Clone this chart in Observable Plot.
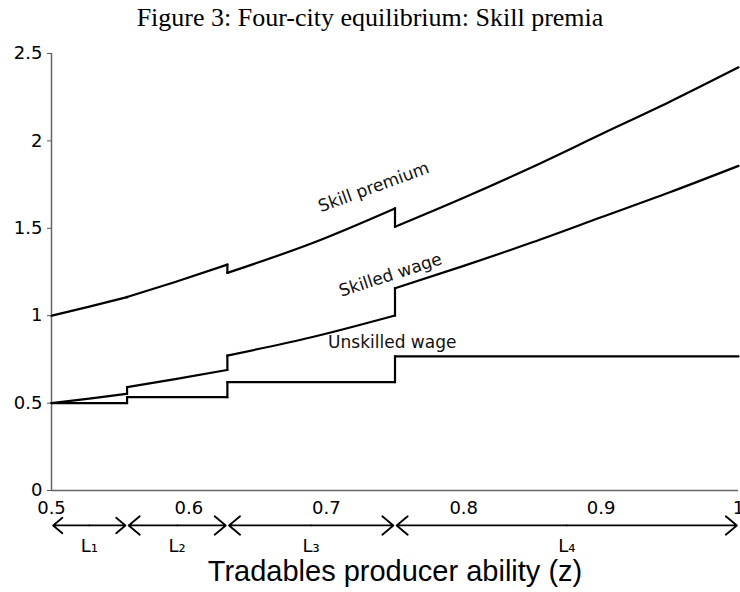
<!DOCTYPE html>
<html>
<head>
<meta charset="utf-8">
<script src="https://cdn.jsdelivr.net/npm/d3@7"></script>
<script src="https://cdn.jsdelivr.net/npm/@observablehq/plot@0.6"></script>
<style>
  html, body { margin: 0; padding: 0; background: #fff; }
  #title { width: 740px; height: 38px; text-align: center; font-family: "Liberation Serif", "DejaVu Serif", serif; font-size: 26px; line-height: 36px; color: #000; }
  #chart svg { display: block; overflow: visible; }
</style>
</head>
<body>
<div id="title">Figure 3: Four-city equilibrium: Skill premia</div>
<div id="chart"></div>
<script>
// Tradables producer ability (z); segment = city in which the producer locates
const zValues   = [0.5, 0.5275, 0.555, 0.555, 0.59, 0.628, 0.628, 0.69, 0.75, 0.75, 0.8, 0.85, 0.9, 0.95, 1.0];
const segment   = [0, 0, 0, 1, 1, 1, 2, 2, 2, 3, 3, 3, 3, 3, 3];
const unskilled = [0.5, 0.5, 0.5, 0.534, 0.534, 0.534, 0.62, 0.62, 0.62, 0.767, 0.767, 0.767, 0.767, 0.767, 0.767];
const skilled   = [0.5, 0.526, 0.553, 0.591, 0.637, 0.69, 0.772, 0.878, 1.001, 1.157, 1.285, 1.42, 1.563, 1.706, 1.857];
const premium   = [1.0, 1.052, 1.106, 1.107, 1.193, 1.292, 1.245, 1.416, 1.614, 1.509, 1.675, 1.851, 2.038, 2.224, 2.421];

// City ranges (L1..L4)
const cityNames  = ["L₁", "L₂", "L₃", "L₄"];
const cityStarts = [0.5, 0.555, 0.628, 0.75];
const cityEnds   = [0.555, 0.628, 0.75, 1.0];

const xTicks = [0.5, 0.6, 0.7, 0.8, 0.9, 1];
const yTicks = [0, 0.5, 1, 1.5, 2, 2.5];

// Curve labels
const labelText = ["Skill premium", "Skilled wage", "Unskilled wage"];
const labelZ    = [0.7345, 0.7467, 0.748];
const labelY    = [1.735, 1.232, 0.847];
const labelRot  = [-20, -18, 0];

const series = [
  {name: "Unskilled wage", values: unskilled},
  {name: "Skilled wage", values: skilled},
  {name: "Skill premium", values: premium}
];
const lineData = series.flatMap(s => zValues.map((z, i) => ({series: s.name, seg: s.name + segment[i], z, v: s.values[i]})));
// vertical jumps between consecutive points sharing the same z (city boundary)
const jumps = series.flatMap(s => zValues.flatMap((z, i) => (i > 0 && zValues[i - 1] === z) ? [{z, v1: s.values[i - 1], v2: s.values[i]}] : []));
const cities = cityNames.map((n, i) => ({name: n, x1: cityStarts[i], x2: cityEnds[i], mid: (cityStarts[i] + cityEnds[i]) / 2}));
const arrowHalves = cities.flatMap(c => [{from: c.mid, to: c.x1 + 0.0012}, {from: c.mid, to: c.x2 - 0.0012}]);
const labels = labelText.map((t, i) => ({t, z: labelZ[i], y: labelY[i], r: labelRot[i]}));

const arrowY = -0.2;
const cityLabelY = -0.318;

const chart = Plot.plot({
  width: 740,
  height: 554,
  marginLeft: 51,
  marginRight: 2,
  marginTop: 15,
  marginBottom: 102,
  x: {domain: [0.5, 1]},
  y: {domain: [0, 2.5]},
  style: {fontFamily: "'DejaVu Sans', sans-serif", fontSize: "18px", color: "#000", background: "#fff"},
  marks: [
    Plot.axisY({ticks: yTicks, tickFormat: d => String(d), tickSize: 4, tickPadding: 5, label: null, stroke: "#555", fill: "#000", fontSize: 18}),
    Plot.axisX({ticks: xTicks, tickFormat: d => String(d), tickSize: 0, tickPadding: 11, label: null, fill: "#000", fontSize: 18}),
    Plot.ruleX([0.5], {y1: 0, y2: 2.5, stroke: "#666", strokeWidth: 1.5}),
    Plot.ruleY([0], {x1: 0.5, x2: 1, stroke: "#666", strokeWidth: 1.5}),
    Plot.line(lineData, {x: "z", y: "v", z: "seg", stroke: "#000", strokeWidth: 2.2, curve: "monotone-x"}),
    Plot.link(jumps, {x1: "z", x2: "z", y1: "v1", y2: "v2", stroke: "#000", strokeWidth: 2.2, strokeLinecap: "square"}),
    Plot.text(labels, {x: "z", y: "y", text: "t", rotate: "r", fontSize: 17, fill: "#111"}),
    Plot.arrow(arrowHalves, {x1: "from", x2: "to", y1: arrowY, y2: arrowY, stroke: "#000", strokeWidth: 1.8, headLength: 12, headAngle: 80, clip: false}),
    Plot.text(cities, {x: "mid", y: cityLabelY, text: "name", fontSize: 18, fill: "#000"}),
    Plot.text(["Tradables producer ability (z)"], {frameAnchor: "bottom", dx: 0, dy: 90, text: d => d, fontSize: 29, fontFamily: "'Liberation Sans', Arial, sans-serif", fill: "#000"})
  ]
});
document.getElementById("chart").appendChild(chart);
</script>
</body>
</html>
